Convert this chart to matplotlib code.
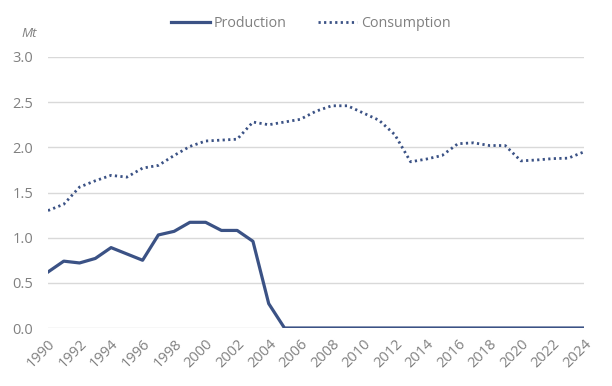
import matplotlib.pyplot as plt

years = list(range(1990, 2025))
production = [0.62, 0.74, 0.72, 0.77, 0.89, 0.82, 0.75, 1.03, 1.07, 1.17,
              1.17, 1.08, 1.08, 0.96, 0.27, 0.0] + [0.0] * 19
consumption = [1.30, 1.37, 1.56, 1.63, 1.69, 1.67, 1.77, 1.80, 1.91, 2.01,
               2.07, 2.08, 2.09, 2.28, 2.25, 2.28, 2.31, 2.40, 2.46, 2.46,
               2.38, 2.30, 2.14, 1.84, 1.87, 1.91, 2.04, 2.05, 2.02, 2.02,
               1.85, 1.86, 1.875, 1.88, 1.95]

plt.rcParams['font.family'] = ['Open Sans', 'DejaVu Sans']
col = '#3b5285'
grey = '#808080'

fig = plt.figure(figsize=(6.12, 3.86), dpi=100)
ax = fig.add_axes([48 / 612, 58 / 386, 536 / 612, 271 / 386])

ax.plot(years, production, color=col, lw=2.3, label='Production')
ax.plot(years, consumption, color=col, lw=2.0, linestyle=(0, (0.8, 1.2)),
        label='Consumption')

ax.set_xlim(1990, 2024)
ax.set_ylim(0, 3.0)
ax.set_yticks([0, 0.5, 1.0, 1.5, 2.0, 2.5, 3.0])
ax.set_yticklabels(['%.1f' % v for v in ax.get_yticks()])
ax.set_xticks(years[::2])
ax.set_xticklabels([str(y) for y in years[::2]], rotation=45, ha='right',
                   rotation_mode='anchor')
ax.tick_params(length=0, colors=grey, labelsize=10.5)
ax.tick_params(axis='y', pad=10.5)
ax.tick_params(axis='x', pad=6)
ax.grid(axis='y', color='#d9d9d9', lw=1)
ax.set_axisbelow(True)
for s in ax.spines.values():
    s.set_visible(False)

ax.text(-0.035, 1.088, 'Mt', transform=ax.transAxes, style='italic',
        color=grey, fontsize=9.5, ha='center', va='center')
fig.legend(loc='upper center', bbox_to_anchor=(0.508, 0.992), ncol=2, frameon=False,
           fontsize=10.3, labelcolor=grey, handlelength=2.7, handletextpad=0.3,
           columnspacing=2.2)

fig.savefig('out.png', dpi=100)
